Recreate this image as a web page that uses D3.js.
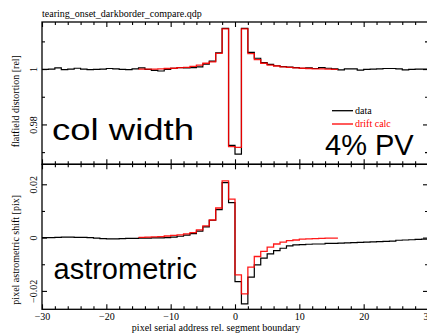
<!DOCTYPE html>
<html>
<head>
<meta charset="utf-8">
<script src="https://cdn.jsdelivr.net/npm/d3@7"></script>
<style>
  body { margin: 0; background: #fff; }
  svg { display: block; font-family: "Liberation Serif", "DejaVu Serif", serif; }
</style>
</head>
<body>
<svg id="mainsvg" width="427" height="334"></svg>
<script>
// ---- data ----
const fileTitle = "tearing_onset_darkborder_compare.qdp";
const xTitle = "pixel serial address rel. segment boundary";
const distTitle = "flatfield distortion [rel]";
const astTitle = "pixel astrometric shift [pix]";

// left edge of every pixel bin
const dataPix = d3.range(-30, 30);
const calcPix = d3.range(-15, 16);

const distData = [
  0.9999, 1.0000, 1.0004, 0.9998, 1.0000, 1.0003, 1.0000, 0.9998, 0.9999, 1.0000,
  1.0002, 1.0001, 0.9999, 0.9998, 1.0001, 1.0004, 0.9999, 0.9995, 0.9993, 0.9999,
  1.0003, 1.0005, 1.0004, 1.0005, 1.0008, 1.0018, 1.0029, 1.0059, 1.0147, 0.9724,
  0.9693, 1.0147, 1.0060, 1.0039, 1.0023, 1.0017, 1.0012, 1.0009, 1.0007, 1.0005,
  1.0003, 1.0004, 1.0002, 1.0005, 1.0003, 1.0001, 0.9997, 1.0001, 1.0001, 0.9996,
  0.9999, 1.0000, 1.0001, 1.0002, 1.0002, 1.0001, 0.9997, 0.9999, 1.0000, 1.0000
];
const distCalc = [
  1.0000, 1.0000, 1.0000, 1.0001, 1.0002, 1.0003, 1.0005, 1.0006, 1.0010, 1.0014,
  1.0021, 1.0026, 1.0057, 1.0145, 0.9720, 0.9717, 1.0145, 1.0056, 1.0034, 1.0021,
  1.0014, 1.0011, 1.0008, 1.0006, 1.0004, 1.0003, 1.0002, 1.0001, 1.0001, 1.0000,
  0.9999
];
const astData = [
  0.0000, 0.0000, 0.0001, 0.0002, 0.0002, 0.0001, 0.0001, 0.0000, -0.0002, -0.0004,
  -0.0005, -0.0005, -0.0004, -0.0003, -0.0003, -0.0002, -0.0002, -0.0001, -0.0001, 0.0000,
  0.0002, 0.0005, 0.0009, 0.0015, 0.0024, 0.0040, 0.0065, 0.0105, 0.0206, 0.0131,
  -0.0165, -0.0249, -0.0148, -0.0102, -0.0077, -0.0061, -0.0049, -0.0040, -0.0031, -0.0027,
  -0.0026, -0.0025, -0.0024, -0.0024, -0.0022, -0.0022, -0.0021, -0.0020, -0.0019, -0.0018,
  -0.0017, -0.0016, -0.0015, -0.0014, -0.0013, -0.0010, -0.0009, -0.0008, -0.0007, -0.0006
];
const astCalc = [
  0.0001, 0.0002, 0.0003, 0.0004, 0.0006, 0.0008, 0.0010, 0.0014, 0.0019, 0.0029,
  0.0044, 0.0066, 0.0111, 0.0213, 0.0144, -0.0140, -0.0211, -0.0111, -0.0071, -0.0052,
  -0.0036, -0.0024, -0.0017, -0.0011, -0.0009, -0.0006, -0.0005, -0.0004, -0.0003, -0.0002,
  -0.0002
];

const xMajor = [-30, -20, -10, 0, 10, 20, 30];
const distMajor = [0.98, 1];
const distMinor = [0.97, 0.99, 1.01];
const astMajor = [-0.02, 0, 0.02];
const astMinor = [-0.01, 0.01];
const legendLabels = ["data", "drift calc"];
const panelLabels = ["col width", "astrometric"];
const noteLabel = "4% PV";

// ---- layout ----
const left = 42, right = 428;
const topPanel = { y0: 22, y1: 164.3 };
const botPanel = { y0: 164.3, y1: 309.3 };
const colData = "#000", colCalc = "#ff0000";

const svg = d3.select("#mainsvg");

const x = d3.scaleLinear().domain([-30, 30]).range([left, right]);
const yDist = d3.scaleLinear().domain([0.9656, 1.017]).range([topPanel.y1, topPanel.y0]);
const yAst = d3.scaleLinear().domain([-0.0269, 0.0275]).range([botPanel.y1, botPanel.y0]);

function stepPoints (pix, vals) {
  const pts = pix.map((p, i) => ({ x: p, y: vals[i] }));
  pts.push({ x: pix[pix.length - 1] + 1, y: vals[vals.length - 1] });
  return pts;
}

function drawPanel (panel, y, major, minor, fmt, dataVals, calcVals, showXLabels) {
  const g = svg.append("g");

  // x ticks, inward on both edges
  const xMinor = d3.range(-30, 31, 2).filter(v => v % 10 !== 0);
  const xb = g.append("g").attr("transform", `translate(0,${panel.y1})`);
  xb.call(d3.axisBottom(x).tickValues(xMajor).tickSize(-5).tickPadding(4)
      .tickFormat(showXLabels ? d3.format("d") : ""));
  xb.append("g").call(d3.axisBottom(x).tickValues(xMinor).tickSize(-3).tickFormat(""));
  const xt = g.append("g").attr("transform", `translate(0,${panel.y0})`);
  xt.call(d3.axisTop(x).tickValues(xMajor).tickSize(-5).tickFormat(""));
  xt.append("g").call(d3.axisTop(x).tickValues(xMinor).tickSize(-3).tickFormat(""));

  // y ticks, left with rotated labels, right inward
  const yl = g.append("g").attr("transform", `translate(${left},0)`);
  yl.call(d3.axisLeft(y).tickValues(major).tickSize(-5).tickFormat(fmt));
  yl.append("g").call(d3.axisLeft(y).tickValues(minor).tickSize(-3).tickFormat(""));
  yl.selectAll("text")
    .attr("x", 0).attr("dy", 0)
    .attr("text-anchor", "middle")
    .attr("transform", "translate(-5,0) rotate(-90)");
  const yr = g.append("g").attr("transform", `translate(${right},0)`);
  yr.call(d3.axisRight(y).tickValues(major).tickSize(-5).tickFormat(""));
  yr.append("g").call(d3.axisRight(y).tickValues(minor).tickSize(-3).tickFormat(""));

  g.selectAll(".domain").remove();
  g.selectAll("g").attr("font-family", null).attr("font-size", null);
  g.selectAll(".tick line").attr("stroke", "#000").attr("stroke-width", 1.1);
  g.selectAll(".tick text").attr("fill", "#000").style("font-size", "10px");

  // frame
  g.append("rect")
    .attr("x", left).attr("y", panel.y0)
    .attr("width", right - left).attr("height", panel.y1 - panel.y0)
    .attr("fill", "none").attr("stroke", "#000").attr("stroke-width", 1.3);

  const line = d3.line()
    .x(d => x(d.x))
    .y(d => y(d.y))
    .curve(d3.curveStepAfter);

  g.append("path")
    .datum(stepPoints(dataPix, dataVals))
    .attr("d", line)
    .attr("fill", "none").attr("stroke", colData).attr("stroke-width", 1.2);

  g.append("path")
    .datum(stepPoints(calcPix, calcVals))
    .attr("d", line)
    .attr("fill", "none").attr("stroke", colCalc).attr("stroke-width", 1.3)
    .style("opacity", 0.9);
}

drawPanel(topPanel, yDist, distMajor, distMinor, d => d3.format("")(d), distData, distCalc, false);
drawPanel(botPanel, yAst, astMajor, astMinor, d => d === 0 ? "0" : d3.format(".2f")(d), astData, astCalc, true);

// titles
svg.append("text").attr("x", left).attr("y", 16.5)
  .style("font-size", "10px").text(fileTitle);
svg.append("text").attr("x", 216).attr("y", 331)
  .attr("text-anchor", "middle").style("font-size", "10px").text(xTitle);
svg.append("text")
  .attr("transform", `translate(19,${(topPanel.y0 + topPanel.y1) / 2 + 8}) rotate(-90)`)
  .attr("text-anchor", "middle").style("font-size", "10px").text(distTitle);
svg.append("text")
  .attr("transform", `translate(19,${(botPanel.y0 + botPanel.y1) / 2 + 13}) rotate(-90)`)
  .attr("text-anchor", "middle").style("font-size", "10px").text(astTitle);

// legend
const legY = [110.7, 124];
const legCol = [colData, colCalc];
legendLabels.forEach((lab, i) => {
  svg.append("line")
    .attr("x1", 332).attr("x2", 353).attr("y1", legY[i]).attr("y2", legY[i])
    .attr("stroke", legCol[i]).attr("stroke-width", 1.3);
  svg.append("text").attr("x", 355).attr("y", legY[i] + 3.3)
    .style("font-size", "10px").attr("fill", legCol[i]).text(lab);
});

// big annotations (the col width label is drawn stretched in the original)
const sans = "'Liberation Sans', Arial, sans-serif";
svg.append("text").attr("x", 52).attr("y", 139.5)
  .attr("textLength", 142).attr("lengthAdjust", "spacingAndGlyphs")
  .style("font-family", sans).style("font-size", "29px").text(panelLabels[0]);
svg.append("text").attr("x", 53.5).attr("y", 279.3)
  .style("font-family", sans).style("font-size", "29px").text(panelLabels[1]);
svg.append("text").attr("x", 325).attr("y", 155)
  .style("font-family", sans).style("font-size", "29px").text(noteLabel);
</script>
</body>
</html>
